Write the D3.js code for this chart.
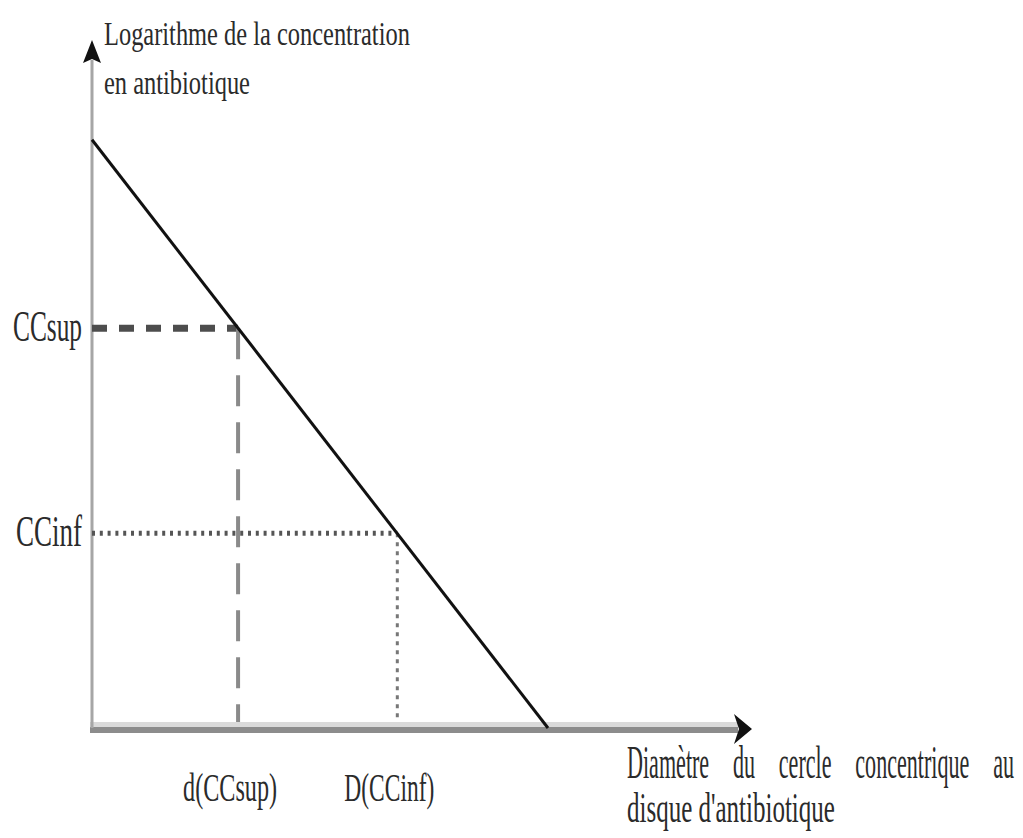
<!DOCTYPE html>
<html>
<head>
<meta charset="utf-8">
<script src="https://cdn.jsdelivr.net/npm/d3@7"></script>
<style>
  body { margin: 0; background: #fff; }
  svg { display: block; }
</style>
</head>
<body>
<div id="chart"></div>
<script>
// valeurs du schéma (unités arbitraires)
const yLabels = ["CCsup", "CCinf"];
const yValues = [5.81, 2.83];
const xLabels = ["d(CCsup)", "D(CCinf)"];
const xValues = [2.22, 4.64];
const droiteX = [0, 6.93];
const droiteY = [8.55, 0];
const titreY = ["Logarithme de la concentration", "en antibiotique"];
const titreX = ["Diamètre du cercle concentrique au", "disque d'antibiotique"];

const width = 1023, height = 838;
const font = "'Liberation Serif', 'Times New Roman', serif";
const ink = "#2b2b2b";

const svg = d3.select("#chart")
    .append("svg")
    .attr("width", width)
    .attr("height", height);

const x = d3.scaleLinear().domain([0, 10]).range([92, 750]);
const y = d3.scaleLinear().domain([0, 10]).range([728, 40]);

// texte condensé : on écrase horizontalement jusqu'à la largeur voulue
function label(txt, px, py, size, w, anchor) {
    const g = svg.append("g");
    const t = g.append("text")
        .attr("x", 0)
        .attr("y", 0)
        .style("font-family", font)
        .style("font-size", size + "px")
        .style("fill", ink)
        .attr("text-anchor", anchor || "start")
        .text(txt);
    const n = t.node().getComputedTextLength();
    const k = w ? w / n : 1;
    g.attr("transform", `translate(${px},${py}) scale(${k},1)`);
    return n;
}

// axe horizontal (bande grise double)
svg.append("line")
    .attr("x1", x(0) - 2).attr("x2", x(10) - 12)
    .attr("y1", y(0) - 3.5).attr("y2", y(0) - 3.5)
    .style("stroke", "#dadada").style("stroke-width", 5);
svg.append("line")
    .attr("x1", x(0) - 2).attr("x2", x(10) - 12)
    .attr("y1", y(0) + 2).attr("y2", y(0) + 2)
    .style("stroke", "#8c8c8c").style("stroke-width", 6);

// axe vertical
svg.append("line")
    .attr("x1", x(0)).attr("x2", x(0))
    .attr("y1", y(10) + 20).attr("y2", y(0))
    .style("stroke", "#a6a6a6").style("stroke-width", 3);

// flèches
svg.append("path")
    .attr("d", `M${x(0)},${y(10)} L${x(0) + 9},${y(10) + 23} L${x(0)},${y(10) + 19} L${x(0) - 9},${y(10) + 23} Z`)
    .style("fill", "#111");
svg.append("path")
    .attr("d", `M${x(10) + 2},${y(0) + 1} L${x(10) - 16},${y(0) - 14} L${x(10) - 11},${y(0) + 1} L${x(10) - 16},${y(0) + 16} Z`)
    .style("fill", "#111");

// pointillés horizontaux
svg.append("line")
    .attr("x1", x(0)).attr("x2", x(xValues[0]))
    .attr("y1", y(yValues[0])).attr("y2", y(yValues[0]))
    .style("stroke", "#4d4d4d").style("stroke-width", 7)
    .style("stroke-dasharray", "15 12");
svg.append("line")
    .attr("x1", x(0)).attr("x2", x(xValues[1]))
    .attr("y1", y(yValues[1])).attr("y2", y(yValues[1]))
    .style("stroke", "#555").style("stroke-width", 5)
    .style("stroke-dasharray", "3 4.8");

// pointillés verticaux
svg.append("line")
    .attr("x1", x(xValues[0])).attr("x2", x(xValues[0]))
    .attr("y1", y(yValues[0])).attr("y2", y(0) - 6)
    .style("stroke", "#8a8a8a").style("stroke-width", 4)
    .style("stroke-dasharray", "31 16");
svg.append("line")
    .attr("x1", x(xValues[1])).attr("x2", x(xValues[1]))
    .attr("y1", y(yValues[1])).attr("y2", y(0) - 6)
    .style("stroke", "#777").style("stroke-width", 3)
    .style("stroke-dasharray", "4 5");

// droite
svg.append("line")
    .attr("x1", x(droiteX[0])).attr("y1", y(droiteY[0]))
    .attr("x2", x(droiteX[1])).attr("y2", y(droiteY[1]))
    .style("stroke", "#111").style("stroke-width", 3);

// étiquettes de l'axe vertical
const yLabW = [69, 66];
yLabels.forEach((l, i) => {
    label(l, x(0) - 10, y(yValues[i]) + 13, 44, yLabW[i], "end");
});

// étiquettes de l'axe horizontal
const xLabW = [94, 90];
xLabels.forEach((l, i) => {
    label(l, x(xValues[i]) - 8, y(0) + 73, 40, xLabW[i], "middle");
});

// titre vertical
label(titreY[0], 104, 45, 34, 306);
label(titreY[1], 104, 94, 34, 146);

// titre horizontal, première ligne justifiée
const words = titreX[0].split(" ");
const left = 627, right = 1014, cond = 0.47;
const probe = svg.append("text")
    .style("font-family", font)
    .style("font-size", "47px");
const ws = words.map(w => probe.text(w).node().getComputedTextLength() * cond);
probe.remove();
const gap = (right - left - d3.sum(ws)) / (words.length - 1);
let cx = left;
words.forEach((w, i) => {
    label(w, cx, 778, 47, ws[i]);
    cx += ws[i] + gap;
});
label(titreX[1], 627, 822, 42, 208);
</script>
</body>
</html>
